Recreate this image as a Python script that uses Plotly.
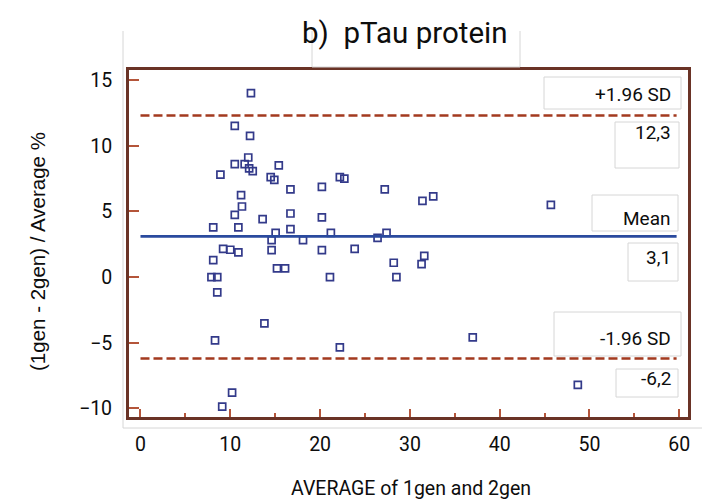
import plotly.graph_objects as go

# ---- data ----
avg = [12.3, 10.5, 12.2, 12.0, 10.5, 11.6, 12.1, 12.5, 15.4, 8.9,
       14.5, 14.9, 22.2, 22.7, 16.7, 20.2, 27.2, 11.2, 11.3, 10.5,
       16.7, 20.2, 13.6, 8.1, 10.9, 16.7, 15.05, 21.2, 27.4, 26.4,
       14.6, 18.1, 9.2, 10.0, 10.9, 14.6, 20.2, 23.85, 8.1, 7.9,
       8.55, 8.55, 15.2, 16.1, 21.1, 28.2, 28.5, 13.8, 8.3, 22.2,
       10.2, 9.1, 31.4, 32.6, 45.7, 31.6, 31.3, 37.0, 48.7]
diff = [14.0, 11.5, 10.75, 9.1, 8.6, 8.6, 8.27, 8.06, 8.5, 7.8,
        7.6, 7.4, 7.6, 7.5, 6.67, 6.87, 6.67, 6.24, 5.37, 4.74,
        4.84, 4.54, 4.41, 3.78, 3.78, 3.65, 3.37, 3.37, 3.37, 2.99,
        2.81, 2.81, 2.15, 2.08, 1.88, 2.05, 2.05, 2.15, 1.29, 0.0,
        0.0, -1.17, 0.66, 0.66, 0.0, 1.09, 0.0, -3.52, -4.82, -5.35,
        -8.8, -9.86, 5.8, 6.14, 5.5, 1.62, 0.99, -4.59, -8.2]
MEAN = 3.1
UPPER = 12.3
LOWER = -6.2
LINE_X = [0, 59.7]
x_ticks = [0, 10, 20, 30, 40, 50, 60]
y_ticks = [-10, -5, 0, 5, 10, 15]
title_text = "b)\u00a0 pTau protein"
x_title = "AVERAGE of 1gen and 2gen"
y_title = "(1gen - 2gen) / Average %"
label_upper = "+1.96 SD"
label_mean = "Mean"
label_lower = "-1.96 SD"

def fmt(v):
    return f"{v:.1f}".replace(".", ",")

# ---- layout geometry (page has an 8px body margin) ----
OFF = 8
W, H = 710 - OFF, 499 - OFF
PL, PR, PT, PB = 129, 688, 70, 417   # plot area in window pixels
ML = PL - OFF
MR = W - (PR - OFF)
MT = PT - OFF
MB = H - (PB - OFF)
PW = PR - PL
PH = PB - PT

def px(x):
    return (x - PL) / PW

def py(y):
    return (PB - y) / PH

FRAME = "#6a3326"
TICK = "#b4553a"
RED = "#a33a1f"
BLUE = "#2a4a9e"
MARK = "#333a8a"
GRAY = "#d6d6d6"
TXT = "#0d0d0d"
FONT = "Roboto"

fig = go.Figure()
fig.add_trace(go.Scatter(
    x=avg, y=diff, mode="markers",
    marker=dict(symbol="square-open", size=7, color=MARK,
                line=dict(width=1.7, color=MARK)),
    showlegend=False, hoverinfo="skip"))

for val, col, dash in [(UPPER, RED, "9px,4px"), (LOWER, RED, "9px,4px"), (MEAN, BLUE, "solid")]:
    fig.add_trace(go.Scatter(
        x=LINE_X, y=[val, val], mode="lines",
        line=dict(color=col, width=2.6, dash=dash),
        showlegend=False, hoverinfo="skip"))

shapes = []
shapes.append(dict(type="line", xref="paper", yref="paper",
                   x0=px(123), y0=py(31), x1=px(123), y1=py(428),
                   line=dict(color=GRAY, width=1)))
shapes.append(dict(type="line", xref="paper", yref="paper",
                   x0=px(123), y0=py(428), x1=px(710), y1=py(428),
                   line=dict(color=GRAY, width=1)))
for (a, b, c, d) in [(312, 31, 312, 67), (312, 67, 520, 67), (520, 67, 520, 31)]:
    shapes.append(dict(type="line", xref="paper", yref="paper",
                       x0=px(a), y0=py(b), x1=px(c), y1=py(d),
                       line=dict(color=GRAY, width=1)))

boxes = [
    ((544, 77, 681, 109), label_upper, 94),
    ((615, 122, 679, 168), fmt(UPPER), 133),
    ((592, 195, 678, 231), label_mean, 218),
    ((628, 243, 678, 281), fmt(MEAN), 257),
    ((554, 312, 681, 356), label_lower, 338),
    ((616, 369, 678, 397), fmt(LOWER), 378),
]
annotations = []
for (x0, y0, x1, y1), txt, ty in boxes:
    shapes.append(dict(type="rect", xref="paper", yref="paper",
                       x0=px(x0), y0=py(y0), x1=px(x1), y1=py(y1),
                       line=dict(color=GRAY, width=1), fillcolor="rgba(0,0,0,0)"))
    annotations.append(dict(xref="paper", yref="paper", x=px(673), y=py(ty),
                            xanchor="right", yanchor="middle", text=txt,
                            showarrow=False,
                            font=dict(family=FONT, size=19, color=TXT)))

annotations.append(dict(xref="paper", yref="paper", x=px(405), y=py(33),
                        xanchor="center", yanchor="middle", text=title_text,
                        showarrow=False,
                        font=dict(family=FONT, size=29.5, color=TXT)))
annotations.append(dict(xref="paper", yref="paper", x=px(411), y=py(488),
                        xanchor="center", yanchor="middle", text=x_title,
                        showarrow=False,
                        font=dict(family=FONT, size=19.5, color=TXT)))
annotations.append(dict(xref="paper", yref="paper", x=px(37), y=py(252),
                        xanchor="center", yanchor="middle", text=y_title,
                        textangle=-90, showarrow=False,
                        font=dict(family="Liberation Sans", size=20.5, color=TXT)))

fig.update_layout(
    width=W, height=H,
    margin=dict(l=ML, r=MR, t=MT, b=MB),
    paper_bgcolor="white", plot_bgcolor="white",
    shapes=shapes, annotations=annotations,
    xaxis=dict(range=[-1.28, 60.97], tickvals=x_ticks, ticks="inside",
               ticklen=8, tickwidth=1.5, tickcolor=TICK, ticklabelstandoff=8,
               minor=dict(dtick=5, tick0=0, ticks="inside", ticklen=4,
                          tickwidth=1.5, tickcolor=TICK, showgrid=False),
               showline=True, linecolor=FRAME, linewidth=3, mirror=True,
               showgrid=False, zeroline=False,
               tickfont=dict(family=FONT, size=19.5, color=TXT)),
    yaxis=dict(range=[-10.65, 15.76], tickvals=y_ticks, ticks="inside",
               ticklen=10, tickwidth=1.5, tickcolor=TICK, ticklabelstandoff=10,
               showline=True, linecolor=FRAME, linewidth=3, mirror=True,
               showgrid=False, zeroline=False,
               tickfont=dict(family=FONT, size=19.5, color=TXT)),
)

fig.write_html("out.html")
